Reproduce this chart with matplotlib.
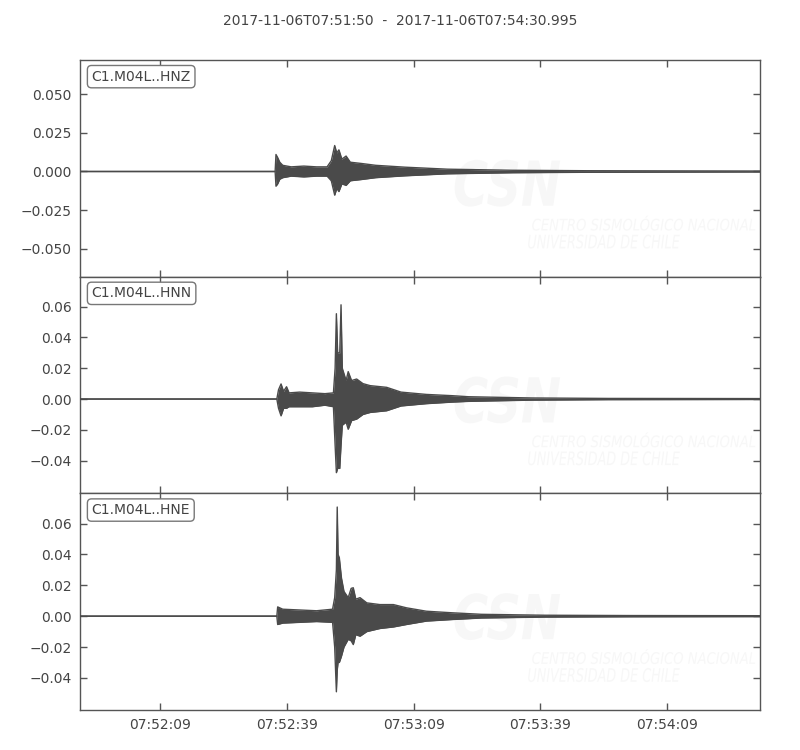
import numpy as np
import matplotlib
matplotlib.use("Agg")
import matplotlib.pyplot as plt
import matplotlib.dates as mdates
from matplotlib.textpath import TextPath
from matplotlib.patches import PathPatch
from matplotlib.font_manager import FontProperties
from matplotlib.transforms import Affine2D
from datetime import datetime, timedelta

# Trace window
start = datetime(2017, 11, 6, 7, 51, 50)
end = datetime(2017, 11, 6, 7, 54, 30, 995000)
title = "2017-11-06T07:51:50  -  2017-11-06T07:54:30.995"

channels = ["C1.M04L..HNZ", "C1.M04L..HNN", "C1.M04L..HNE"]

# Envelope of each trace (seconds after start, m/s^2)
hnz_t = [0, 46.2, 46.4, 46.8, 47.3, 48, 50, 53, 56, 58.5, 59.5, 60.3, 60.8,
         61.3, 62, 63, 64, 66.6, 70, 76.9, 87, 102.5, 120, 140, 161]
hnz_up = [0, 0, 0.011, 0.009, 0.006, 0.004, 0.003, 0.0035, 0.003, 0.003, 0.007,
          0.0168, 0.012, 0.014, 0.008, 0.010, 0.006, 0.0052, 0.004, 0.0028,
          0.0015, 0.0008, 0.0005, 0.0004, 0.0003]
hnz_lo = [0, 0, -0.0095, -0.008, -0.005, -0.004, -0.003, -0.0035, -0.003,
          -0.003, -0.006, -0.0153, -0.011, -0.013, -0.008, -0.009, -0.006,
          -0.0052, -0.004, -0.0028, -0.0015, -0.0008, -0.0005, -0.0004, -0.0003]

hnn_t = [0, 46.6, 47.0, 47.6, 48.2, 48.9, 49.5, 52, 55, 58, 60.0, 60.4, 60.7,
         61.0, 61.5, 61.8, 62.1, 63.0, 63.5, 64.3, 65.5, 67, 68.7, 72.6, 76,
         78, 82, 88, 92, 107, 125, 161]
hnn_up = [0, 0, 0.006, 0.0098, 0.005, 0.008, 0.004, 0.0045, 0.004, 0.0035,
          0.004, 0.02, 0.0554, 0.03, 0.03, 0.0612, 0.02, 0.012, 0.0178, 0.012,
          0.013, 0.010, 0.0087, 0.0076, 0.0045, 0.004, 0.003, 0.0022, 0.0015,
          0.0007, 0.0004, 0.0003]
hnn_lo = [0, 0, -0.006, -0.0109, -0.006, -0.006, -0.005, -0.005, -0.005,
          -0.004, -0.005, -0.03, -0.0478, -0.045, -0.045, -0.03, -0.017,
          -0.015, -0.0196, -0.014, -0.013, -0.010, -0.0087, -0.0076, -0.0045,
          -0.004, -0.003, -0.002, -0.0015, -0.0007, -0.0004, -0.0003]

hne_t = [0, 46.6, 46.8, 48, 52, 56, 59.8, 60.3, 60.7, 60.9, 61.1, 61.4, 61.9,
         62.5, 63.5, 64.2, 64.7, 65.3, 66.3, 67.9, 71, 74.2, 77.3, 82, 88, 95,
         110, 130, 161]
hne_up = [0, 0, 0.006, 0.0045, 0.004, 0.0035, 0.0045, 0.012, 0.03, 0.0707,
          0.04, 0.0378, 0.0248, 0.016, 0.012, 0.018, 0.0184, 0.011, 0.012,
          0.0086, 0.0075, 0.0075, 0.0054, 0.0032, 0.0022, 0.0012, 0.0006,
          0.0004, 0.0003]
hne_lo = [0, 0, -0.0054, -0.0045, -0.004, -0.0035, -0.004, -0.02, -0.049,
          -0.035, -0.03, -0.03, -0.026, -0.02, -0.015, -0.016, -0.0184,
          -0.012, -0.013, -0.01, -0.008, -0.007, -0.0054, -0.0032, -0.0022,
          -0.0012, -0.0006, -0.0004, -0.0003]

ylims = [(-0.068, 0.0722), (-0.0612, 0.0795), (-0.0608, 0.0796)]
yticks = [[-0.05, -0.025, 0.0, 0.025, 0.05],
          [-0.04, -0.02, 0.0, 0.02, 0.04, 0.06],
          [-0.04, -0.02, 0.0, 0.02, 0.04, 0.06]]
yfmts = ["%.3f", "%.2f", "%.2f"]

envelopes = [(hnz_t, hnz_up, hnz_lo), (hnn_t, hnn_up, hnn_lo),
             (hne_t, hne_up, hne_lo)]

# watermark texts and the box (axes fractions) each one fills
mark_texts = [("CSN", True, (0.551, 0.323, 0.706, 0.539)),
              ("CENTRO SISMOLÓGICO NACIONAL", False, (0.665, 0.212, 0.993, 0.281)),
              ("UNIVERSIDAD DE CHILE", False, (0.659, 0.129, 0.882, 0.194))]

wave_col = "#4a4a4a"
text_col = "#444444"
spine_col = "#555555"
mark_col = "#f7f7f7"

plt.rcParams["font.family"] = ["DejaVu Sans"]
plt.rcParams["font.size"] = 10


def minus_fmt(fmt):
    return plt.FuncFormatter(lambda v, pos: (fmt % v).replace("-", "\u2212"))


def watermark(ax):
    for txt, bold, (x0, y0, x1, y1) in mark_texts:
        prop = FontProperties(family="DejaVu Sans", style="italic",
                              weight="bold" if bold else "normal")
        tp = TextPath((0, 0), txt, size=1, prop=prop)
        ext = tp.get_extents()
        tr = (Affine2D().translate(-ext.x0, -ext.y0)
              .scale((x1 - x0) / ext.width, (y1 - y0) / ext.height)
              .translate(x0, y0))
        patch = PathPatch(tr.transform_path(tp), transform=ax.transAxes,
                          fc=mark_col, ec="none", zorder=0)
        ax.add_patch(patch)


fig = plt.figure(figsize=(8, 7.5), dpi=100)
fig.text(0.5, 0.972, title, ha="center", va="center", color=text_col,
         fontsize=10)

left, width = 0.1, 0.85
height = 216.7 / 750
bottom0 = 1 - 710 / 750

ticks = [start + timedelta(seconds=19 + 30 * i) for i in range(5)]

for i, (name, (t, up, lo)) in enumerate(zip(channels, envelopes)):
    b = bottom0 + (2 - i) * height
    ax = fig.add_axes([left, b, width, height])

    watermark(ax)

    times = [start + timedelta(seconds=s) for s in t]
    ax.fill_between(times, lo, up, color=wave_col, lw=0, zorder=2)
    ax.plot(times, up, color=wave_col, lw=1, zorder=3)
    ax.plot(times, lo, color=wave_col, lw=1, zorder=3)

    ax.set_xlim(start, end)
    ax.set_ylim(*ylims[i])
    ax.set_yticks(yticks[i])
    ax.yaxis.set_major_formatter(minus_fmt(yfmts[i]))
    ax.set_xticks(ticks)
    ax.xaxis.set_major_formatter(mdates.DateFormatter("%H:%M:%S"))
    if i < 2:
        ax.tick_params(labelbottom=False)

    ax.tick_params(direction="in", top=True, right=True, length=5,
                   width=1, color=spine_col, labelcolor=text_col, pad=6)
    for sp in ax.spines.values():
        sp.set_color(spine_col)
        sp.set_linewidth(1)

    ax.text(0.017, 0.955, name, transform=ax.transAxes, ha="left", va="top",
            color=text_col, fontsize=10, zorder=5,
            bbox=dict(boxstyle="round,pad=0.3", fc="white", ec="#777777",
                      lw=1))

fig.savefig("out.png", dpi=100)
